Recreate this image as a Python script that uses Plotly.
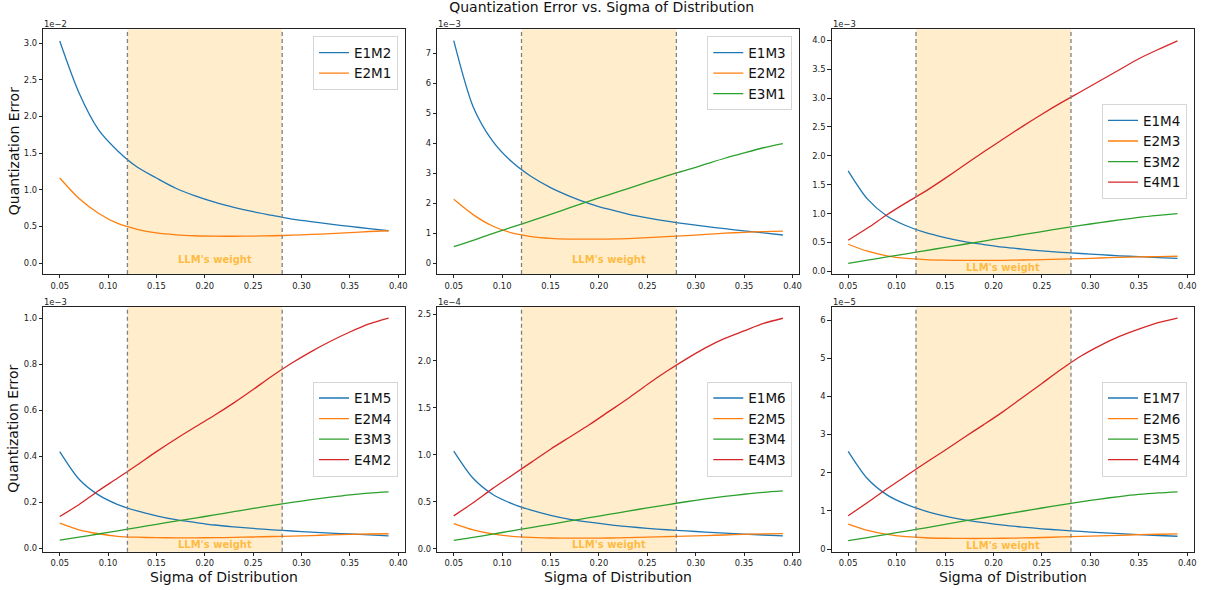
import plotly.graph_objects as go

# ---------------- data (values in units of each panel's exponent) ----------------
sigma = [0.05, 0.07, 0.09, 0.11, 0.13, 0.15, 0.17, 0.19, 0.21, 0.23,
         0.25, 0.27, 0.29, 0.31, 0.33, 0.35, 0.37, 0.39]

# panel 1 (x 1e-2)
E1M2 = [3.03, 2.32, 1.82, 1.53, 1.31, 1.16, 1.02, 0.915, 0.83, 0.76, 0.70, 0.65, 0.60, 0.565, 0.53, 0.50, 0.47, 0.44]
E2M1 = [1.16, 0.88, 0.68, 0.54, 0.46, 0.41, 0.385, 0.372, 0.366, 0.365, 0.367, 0.372, 0.38, 0.39, 0.40, 0.415, 0.43, 0.44]
# panel 2 (x 1e-3)
E1M3 = [7.42, 5.22, 4.08, 3.38, 2.89, 2.52, 2.23, 1.99, 1.80, 1.64, 1.51, 1.40, 1.31, 1.23, 1.15, 1.08, 1.01, 0.94]
E2M2 = [2.13, 1.62, 1.24, 1.01, 0.89, 0.83, 0.805, 0.80, 0.805, 0.82, 0.85, 0.885, 0.92, 0.96, 1.00, 1.03, 1.055, 1.07]
E3M1 = [0.55, 0.76, 0.99, 1.20, 1.41, 1.63, 1.85, 2.07, 2.28, 2.49, 2.70, 2.91, 3.10, 3.30, 3.50, 3.68, 3.85, 3.99]
# panel 3 (x 1e-3)
E1M4 = [1.74, 1.25, 0.96, 0.79, 0.67, 0.585, 0.515, 0.465, 0.42, 0.385, 0.355, 0.33, 0.31, 0.29, 0.27, 0.255, 0.24, 0.225]
E2M3 = [0.47, 0.35, 0.27, 0.225, 0.205, 0.195, 0.19, 0.19, 0.192, 0.197, 0.205, 0.213, 0.222, 0.232, 0.242, 0.25, 0.257, 0.262]
E3M2 = [0.14, 0.195, 0.25, 0.305, 0.36, 0.415, 0.47, 0.525, 0.58, 0.635, 0.69, 0.745, 0.795, 0.845, 0.89, 0.935, 0.97, 1.00]
E4M1 = [0.54, 0.75, 0.98, 1.19, 1.39, 1.61, 1.84, 2.07, 2.29, 2.51, 2.72, 2.92, 3.11, 3.30, 3.49, 3.68, 3.84, 3.99]
# panel 4 (x 1e-3)
E1M5 = [0.42, 0.30, 0.232, 0.19, 0.162, 0.141, 0.124, 0.112, 0.101, 0.093, 0.086, 0.080, 0.075, 0.070, 0.066, 0.062, 0.058, 0.054]
E2M4 = [0.109, 0.080, 0.063, 0.052, 0.048, 0.046, 0.0455, 0.0455, 0.046, 0.047, 0.049, 0.051, 0.053, 0.055, 0.058, 0.060, 0.062, 0.063]
E3M3 = [0.035, 0.048, 0.062, 0.076, 0.090, 0.104, 0.118, 0.131, 0.145, 0.159, 0.173, 0.186, 0.199, 0.211, 0.222, 0.232, 0.240, 0.245]
E4M2 = [0.138, 0.19, 0.25, 0.305, 0.362, 0.42, 0.475, 0.527, 0.578, 0.632, 0.69, 0.75, 0.805, 0.855, 0.90, 0.94, 0.975, 1.00]
# panel 5 (x 1e-4)
E1M6 = [1.04, 0.75, 0.58, 0.48, 0.41, 0.355, 0.313, 0.282, 0.256, 0.235, 0.217, 0.202, 0.189, 0.177, 0.166, 0.156, 0.146, 0.137]
E2M5 = [0.267, 0.20, 0.157, 0.132, 0.12, 0.114, 0.112, 0.112, 0.114, 0.118, 0.123, 0.128, 0.134, 0.14, 0.146, 0.152, 0.157, 0.16]
E3M4 = [0.088, 0.12, 0.155, 0.19, 0.225, 0.26, 0.296, 0.33, 0.365, 0.40, 0.435, 0.468, 0.50, 0.53, 0.557, 0.58, 0.60, 0.615]
E4M3 = [0.35, 0.49, 0.64, 0.78, 0.92, 1.06, 1.19, 1.32, 1.46, 1.60, 1.75, 1.89, 2.02, 2.14, 2.24, 2.32, 2.40, 2.455]
# panel 6 (x 1e-5)
E1M7 = [2.56, 1.84, 1.42, 1.17, 0.995, 0.865, 0.765, 0.69, 0.625, 0.575, 0.53, 0.495, 0.46, 0.43, 0.405, 0.38, 0.355, 0.335]
E2M6 = [0.655, 0.49, 0.385, 0.325, 0.295, 0.282, 0.277, 0.277, 0.282, 0.29, 0.302, 0.316, 0.33, 0.345, 0.36, 0.375, 0.387, 0.395]
E3M5 = [0.22, 0.30, 0.385, 0.47, 0.555, 0.645, 0.735, 0.82, 0.905, 0.99, 1.075, 1.155, 1.235, 1.31, 1.375, 1.43, 1.47, 1.50]
E4M4 = [0.87, 1.22, 1.58, 1.92, 2.26, 2.59, 2.93, 3.26, 3.60, 3.97, 4.34, 4.71, 5.05, 5.33, 5.57, 5.76, 5.93, 6.05]

exponents = ["1e\u22122", "1e\u22123", "1e\u22123", "1e\u22123", "1e\u22124", "1e\u22125"]
llm_band = [0.12, 0.28]
x_ticks = [0.05, 0.10, 0.15, 0.20, 0.25, 0.30, 0.35, 0.40]

panels = [
    [("E1M2", E1M2), ("E2M1", E2M1)],
    [("E1M3", E1M3), ("E2M2", E2M2), ("E3M1", E3M1)],
    [("E1M4", E1M4), ("E2M3", E2M3), ("E3M2", E3M2), ("E4M1", E4M1)],
    [("E1M5", E1M5), ("E2M4", E2M4), ("E3M3", E3M3), ("E4M2", E4M2)],
    [("E1M6", E1M6), ("E2M5", E2M5), ("E3M4", E3M4), ("E4M3", E4M3)],
    [("E1M7", E1M7), ("E2M6", E2M6), ("E3M5", E3M5), ("E4M4", E4M4)],
]

# ---------------- styling / layout ----------------
W, H = 1207, 590
colors = ["#1f77b4", "#ff7f0e", "#2ca02c", "#d62728"]
FONT = "DejaVu Sans"

xdom_px = [(43.3, 405.0), (437.3, 799.3), (831.7, 1194.0)]
ydom_px = [(29.3, 274.0), (306.7, 551.7)]
y_ranges = [(-0.15, 3.19), (-0.36, 7.80), (-0.045, 4.19),
            (-0.015, 1.05), (-0.032, 2.578), (-0.07, 6.35)]
y_dticks = [0.5, 1, 0.5, 0.2, 0.5, 1]
y_fmt = [".1f", "d", ".1f", ".1f", ".1f", "d"]

fig = go.Figure()
layout = dict(
    template="none",
    width=W, height=H,
    margin=dict(l=0, r=0, t=0, b=0, pad=0, autoexpand=False),
    paper_bgcolor="white", plot_bgcolor="white",
    font=dict(family=FONT, color="#222"),
    showlegend=True,
    title=dict(text="Quantization Error vs. Sigma of Distribution",
               x=601.7 / W, xanchor="center", y=1 - 7.5 / H, yanchor="middle",
               xref="paper", yref="paper", automargin=False,
               font=dict(size=14, family=FONT, color="#111")),
)

annotations = []
shapes = []

for i, series in enumerate(panels):
    row, col = divmod(i, 3)
    n = i + 1
    xa = "x" if n == 1 else f"x{n}"
    ya = "y" if n == 1 else f"y{n}"
    leg = "legend" if n == 1 else f"legend{n}"
    x0, x1 = xdom_px[col]
    yt, yb = ydom_px[row]

    layout["xaxis" if n == 1 else f"xaxis{n}"] = dict(
        domain=[x0 / W, x1 / W], anchor=ya, range=[0.033, 0.407], automargin=False,
        tickvals=x_ticks, ticktext=[f"{v:.2f}" for v in x_ticks],
        ticks="outside", ticklen=3.5, tickwidth=0.8, tickcolor="#222",
        showline=True, mirror=True, linecolor="#222", linewidth=0.9,
        showgrid=False, zeroline=False,
        tickfont=dict(size=8.4, family=FONT, color="#222"),
    )
    layout["yaxis" if n == 1 else f"yaxis{n}"] = dict(
        domain=[1 - yb / H, 1 - yt / H], anchor=xa, range=list(y_ranges[i]), automargin=False,
        tick0=0, dtick=y_dticks[i], tickformat=y_fmt[i],
        ticks="outside", ticklen=3.5, tickwidth=0.8, tickcolor="#222",
        showline=True, mirror=True, linecolor="#222", linewidth=0.9,
        showgrid=False, zeroline=False,
        tickfont=dict(size=8.4, family=FONT, color="#222"),
    )

    # LLM weight band
    shapes.append(dict(type="rect", xref=xa, yref=f"{ya} domain",
                       x0=llm_band[0], x1=llm_band[1], y0=0, y1=1,
                       fillcolor="rgba(255,165,0,0.2)", line=dict(width=0), layer="below"))
    for xv in llm_band:
        shapes.append(dict(type="line", xref=xa, yref=f"{ya} domain",
                           x0=xv, x1=xv, y0=0, y1=1,
                           line=dict(color="#808080", width=1.3, dash="4px,3px")))

    for k, (name, vals) in enumerate(series):
        fig.add_trace(go.Scatter(
            x=sigma, y=vals, mode="lines", name=name,
            line=dict(color=colors[k], width=1.3, shape="spline", smoothing=0.8),
            xaxis=xa, yaxis=ya, legend=leg, hoverinfo="x+y+name",
        ))

    # legend
    right = (x1 - 7) / W
    if i < 2:
        lpos = dict(x=right, xanchor="right", y=1 - (yt + 7) / H, yanchor="top")
    else:
        lpos = dict(x=right, xanchor="right", y=1 - ((yt + yb) / 2) / H, yanchor="middle")
    layout[leg] = dict(**lpos, bgcolor="rgba(255,255,255,0.8)", bordercolor="#d6d6d6",
                       borderwidth=1, font=dict(size=13.5, family=FONT, color="#111"),
                       tracegroupgap=0, itemwidth=30)

    # LLM's weight text
    annotations.append(dict(text="<b>LLM's weight</b>", xref=xa, yref=ya, x=0.17, y=0,
                            xanchor="left", yanchor="middle", yshift=4, showarrow=False,
                            font=dict(size=10, family=FONT, color="rgba(255,165,0,0.7)")))
    # exponent offset text
    annotations.append(dict(text=exponents[i], xref=f"{xa} domain", yref=f"{ya} domain",
                            x=0, y=1, xanchor="left", yanchor="bottom", showarrow=False,
                            font=dict(size=8.4, family=FONT, color="#222"), borderpad=0, yshift=-1))

    if col == 0:
        annotations.append(dict(text="Quantization Error", xref="paper", yref="paper",
                                x=13.5 / W, y=1 - ((yt + yb) / 2) / H, textangle=-90,
                                xanchor="center", yanchor="middle", showarrow=False,
                                font=dict(size=14, family=FONT, color="#111")))
    if row == 1:
        annotations.append(dict(text="Sigma of Distribution", xref="paper", yref="paper",
                                x=((x0 + x1) / 2) / W, y=1 - 577 / H,
                                xanchor="center", yanchor="middle", showarrow=False,
                                font=dict(size=14, family=FONT, color="#111")))

layout["annotations"] = annotations
layout["shapes"] = shapes
fig.update_layout(**layout)
fig.write_html("out.html",
               config={"displayModeBar": False},
               post_script="document.body.style.margin='0';document.body.style.padding='0';"
                           "document.documentElement.style.overflow='hidden';")
